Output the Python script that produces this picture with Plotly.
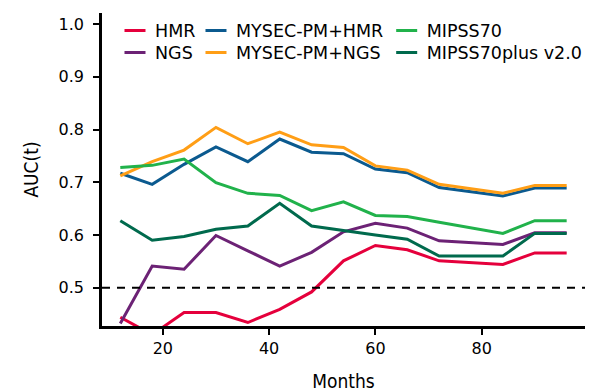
import plotly.graph_objects as go

months = [12, 18, 24, 30, 36, 42, 48, 54, 60, 66, 72, 84, 90, 96]

hmr = [0.444, 0.411, 0.453, 0.453, 0.434, 0.459, 0.492, 0.551, 0.580, 0.572, 0.551, 0.544, 0.566, 0.566]
ngs = [0.432, 0.541, 0.535, 0.599, 0.570, 0.541, 0.567, 0.606, 0.622, 0.613, 0.589, 0.582, 0.604, 0.604]
mysec_hmr = [0.717, 0.696, 0.734, 0.767, 0.739, 0.782, 0.757, 0.754, 0.725, 0.718, 0.690, 0.674, 0.689, 0.689]
mysec_ngs = [0.712, 0.739, 0.761, 0.804, 0.773, 0.795, 0.771, 0.766, 0.731, 0.723, 0.696, 0.679, 0.694, 0.694]
mipss70 = [0.728, 0.732, 0.744, 0.699, 0.679, 0.675, 0.646, 0.663, 0.637, 0.635, 0.624, 0.603, 0.627, 0.627]
mipss70plus = [0.627, 0.590, 0.597, 0.611, 0.617, 0.660, 0.617, 0.608, 0.600, 0.592, 0.560, 0.560, 0.603, 0.603]

series_names = ["HMR", "NGS", "MYSEC-PM+HMR", "MYSEC-PM+NGS", "MIPSS70", "MIPSS70plus v2.0"]
series_values = [hmr, ngs, mysec_hmr, mysec_ngs, mipss70, mipss70plus]
series_colors = ["#E5003C", "#6C2275", "#0B5A8F", "#FF9E16", "#21B24B", "#006A4D"]

y_ticks = [0.5, 0.6, 0.7, 0.8, 0.9, 1.0]
x_ticks = [20, 40, 60, 80]
reference_auc = 0.5

# legend placement: (x paper, y paper) per entry, arranged column-wise
legend_pos = [(0.0269, 0.9435), (0.0269, 0.8732),
              (0.1946, 0.9435), (0.1946, 0.8732),
              (0.5894, 0.9435), (0.5894, 0.8732)]

fig = go.Figure()
for name, vals, col in zip(series_names, series_values, series_colors):
    fig.add_trace(go.Scatter(x=months, y=vals, mode="lines", name=name,
                             line=dict(color=col, width=3), showlegend=False))

legend_font = dict(family="DejaVu Sans", size=17.5, color="black")
layout_legends = {}
for i, (name, col) in enumerate(zip(series_names, series_colors)):
    lg = "legend" if i == 0 else f"legend{i+1}"
    fig.add_trace(go.Scatter(x=[None], y=[None], mode="markers", name=name,
                             marker=dict(symbol="line-ew", size=15,
                                         line=dict(color=col, width=3)),
                             showlegend=True, legend=lg))
    lx, ly = legend_pos[i]
    layout_legends[lg] = dict(x=lx, y=ly, xanchor="left", yanchor="middle",
                              bgcolor="rgba(0,0,0,0)", borderwidth=0,
                              font=legend_font)

fig.add_shape(type="line", xref="paper", yref="y", x0=0, x1=1,
              y0=reference_auc, y1=reference_auc,
              line=dict(color="black", width=2, dash="8px,7px"))

title_font = dict(family="DejaVu Sans Condensed, Liberation Sans Narrow, sans-serif",
                  size=19, color="black")

# the page body adds an 8px offset; margins compensate so the plot area sits where the reference has it
fig.update_layout(
    width=595, height=392,
    margin=dict(l=94, r=18, t=5, b=74, autoexpand=False),
    paper_bgcolor="white", plot_bgcolor="white",
    font=dict(family="DejaVu Sans", size=16, color="black"),
    xaxis=dict(range=[8.555, 99.45], tickvals=x_ticks, ticktext=[str(t) for t in x_ticks],
               showgrid=False, zeroline=False, showline=True, linecolor="black", linewidth=2.5,
               ticks="outside", ticklen=6, tickwidth=2, tickcolor="black",
               tickfont=dict(family="DejaVu Sans", size=16, color="black"),
               title=dict(text="Months", font=title_font, standoff=18)),
    yaxis=dict(range=[0.4274, 1.0209], tickvals=y_ticks, ticktext=[f"{t:.1f}" for t in y_ticks],
               showgrid=False, zeroline=False, showline=True, linecolor="black", linewidth=2.5,
               ticks="outside", ticklen=6, tickwidth=2, tickcolor="black",
               ticklabelstandoff=6,
               tickfont=dict(family="DejaVu Sans", size=16, color="black"),
               title=dict(text="AUC(t)", font=title_font, standoff=15)),
    **layout_legends,
)

fig.write_html("out.html")
